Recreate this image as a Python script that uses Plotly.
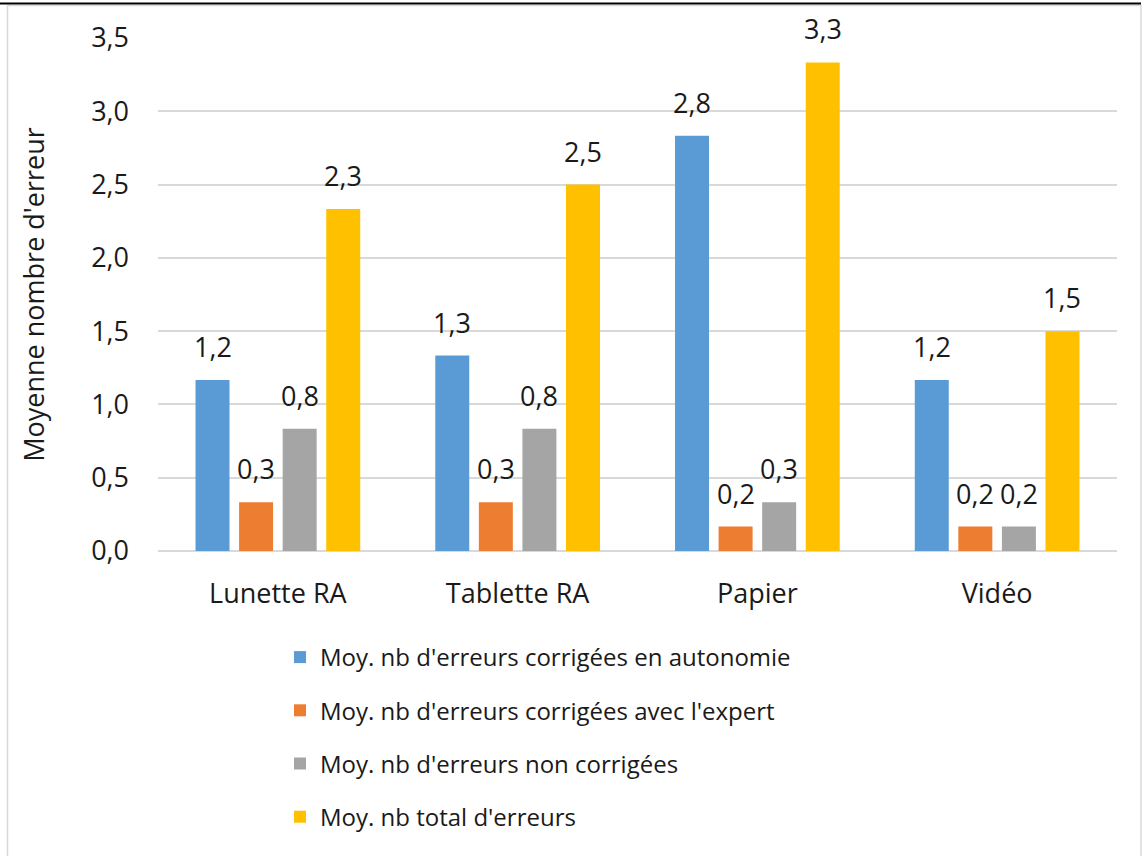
import plotly.graph_objects as go

categories = ["Lunette RA", "Tablette RA", "Papier", "Vidéo"]
series_names = [
    "Moy. nb d'erreurs corrigées en autonomie",
    "Moy. nb d'erreurs corrigées avec l'expert",
    "Moy. nb d'erreurs non corrigées",
    "Moy. nb total d'erreurs",
]
autonomie = [7 / 6, 4 / 3, 17 / 6, 7 / 6]
expert = [1 / 3, 1 / 3, 1 / 6, 1 / 6]
non_corrigees = [5 / 6, 5 / 6, 1 / 3, 1 / 6]
total = [7 / 3, 5 / 2, 10 / 3, 3 / 2]
series_values = [autonomie, expert, non_corrigees, total]
colors = ["#5B9BD5", "#ED7D31", "#A5A5A5", "#FFC000"]
y_ticks = [0, 0.5, 1.0, 1.5, 2.0, 2.5, 3.0, 3.5]

FONT = "Open Sans, Noto Sans, sans-serif"
TEXT = "#1a1a1a"
FS = 27
W, H = 1143, 856
ML, MR, MT, MB = 158, 26, 38, 305
BARGAP, GROUPGAP = 0.273, 0.22


def fmt(v):
    return f"{v:.1f}".replace(".", ",")


fig = go.Figure()
for i, (name, vals, col) in enumerate(zip(series_names, series_values, colors)):
    fig.add_trace(go.Bar(
        x=categories, y=vals, name=name, marker_color=col,
        marker_line_width=0, legendgroup=f"g{i}",
    ))

# value labels above each bar
plot_w = W - ML - MR
cat_px = plot_w / len(categories)
slot_px = cat_px * (1 - BARGAP) / len(series_values)
for i, vals in enumerate(series_values):
    dx = (i - (len(series_values) - 1) / 2) * slot_px
    for c, v in zip(categories, vals):
        fig.add_annotation(
            x=c, y=v, text=fmt(v), showarrow=False, xshift=dx,
            yanchor="bottom", yshift=13,
            font=dict(family=FONT, size=FS, color=TEXT),
        )

# outer frame
px = lambda p: (p - ML) / plot_w
py = lambda p: (H - MB - p) / (H - MT - MB)
fig.add_shape(type="rect", xref="paper", yref="paper",
              x0=px(7.5), x1=px(1141), y0=py(900), y1=py(5.5),
              line=dict(color="#D9D9D9", width=1.5), layer="below")
fig.add_shape(type="line", xref="paper", yref="paper",
              x0=px(0), x1=px(1141), y0=py(3.5), y1=py(3.5),
              line=dict(color="#000000", width=2))

fig.update_layout(
    width=W, height=H,
    margin=dict(l=ML, r=MR, t=MT, b=MB, autoexpand=False),
    paper_bgcolor="white", plot_bgcolor="white",
    barmode="group", bargap=BARGAP, bargroupgap=GROUPGAP,
    font=dict(family=FONT, size=FS, color=TEXT),
    showlegend=True,
    legend=dict(
        orientation="v", x=px(280), xanchor="left", y=py(635), yanchor="top",
        font=dict(family=FONT, size=24, color=TEXT),
        tracegroupgap=19, itemclick=False,
    ),
    xaxis=dict(
        showline=False, ticks="", ticklabelstandoff=24, automargin=False,
        tickfont=dict(family=FONT, size=FS, color=TEXT),
    ),
    yaxis=dict(
        range=[0, 3.5], tickvals=y_ticks, ticktext=[fmt(v) for v in y_ticks],
        showgrid=True, gridcolor="#D9D9D9", gridwidth=1.5,
        zeroline=True, zerolinecolor="#D9D9D9", zerolinewidth=1.5,
        ticks="", ticklabelstandoff=28, automargin=False,
        tickfont=dict(family=FONT, size=FS, color=TEXT),
        title=dict(text="Moyenne nombre d'erreur", standoff=38,
                   font=dict(family=FONT, size=FS, color=TEXT)),
    ),
)

fig.write_html("out.html")
